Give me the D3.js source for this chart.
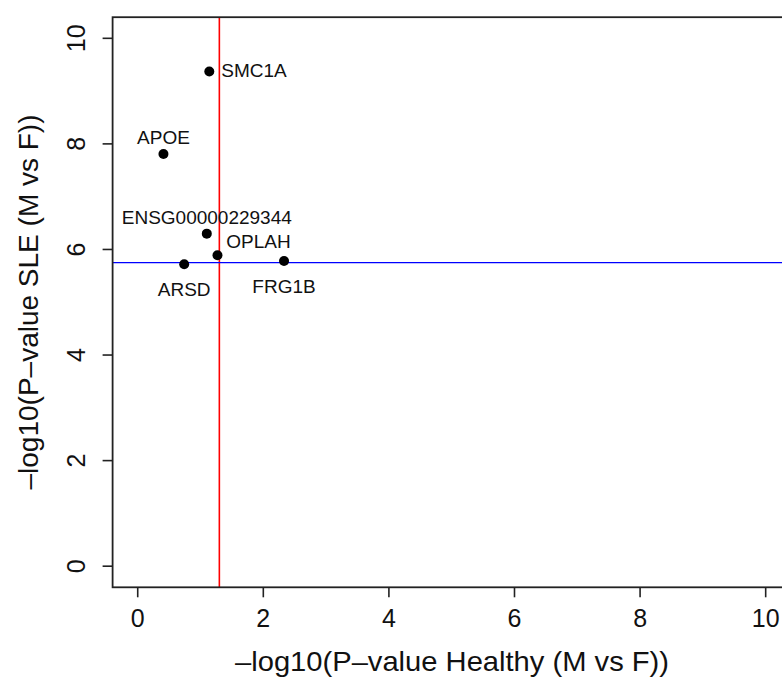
<!DOCTYPE html>
<meta charset="utf-8">
<style>
body { margin: 0; background: #fff; }
text { font-family: "Liberation Sans", Arial, sans-serif; fill: #111; }
.tick-label { font-size: 25px; }
.axis-title { font-size: 28px; }
.gene-label { font-size: 19px; }
</style>
<svg width="782" height="677"></svg>
<script src="https://d3js.org/d3.v7.min.js"></script>
<script>

// data
var genes  = ["SMC1A", "APOE", "ENSG00000229344", "OPLAH", "ARSD", "FRG1B"];
var xVals  = [1.14, 0.41, 1.10, 1.27, 0.74, 2.33];   // -log10 p healthy
var yVals  = [9.37, 7.81, 6.30, 5.89, 5.72, 5.78];   // -log10 p SLE
var labelPos = ["right", "above", "above", "aboveRight", "below", "below"];
var xTicks = [0, 2, 4, 6, 8, 10];
var yTicks = [0, 2, 4, 6, 8, 10];
var xCut = 1.30;    // -log10(0.05)
var yCut = 5.75;

var svg = d3.select("svg");

var x = d3.scaleLinear().domain([-0.4, 10.4]).range([112.6, 790.8]);
var y = d3.scaleLinear().domain([-0.4, 10.4]).range([587.3, 17.2]);

// threshold lines
svg.append("line")
    .attr("x1", x(xCut)).attr("x2", x(xCut))
    .attr("y1", y(10.4)).attr("y2", y(-0.4))
    .attr("stroke", "#f00").attr("stroke-width", 1.6);

svg.append("line")
    .attr("x1", x(-0.4)).attr("x2", x(10.4))
    .attr("y1", y(yCut)).attr("y2", y(yCut))
    .attr("stroke", "#00f").attr("stroke-width", 1.4);

// box
svg.append("rect")
    .attr("x", x(-0.4)).attr("y", y(10.4))
    .attr("width", x(10.4) - x(-0.4))
    .attr("height", y(-0.4) - y(10.4))
    .attr("fill", "none").attr("stroke", "#222").attr("stroke-width", 1.8);

// x axis
var xAxis = svg.append("g").attr("transform", "translate(0," + y(-0.4) + ")");
xAxis.selectAll("line").data(xTicks).join("line")
    .attr("x1", d => x(d)).attr("x2", d => x(d))
    .attr("y1", 0).attr("y2", 10)
    .attr("stroke", "#222").attr("stroke-width", 1.6);
xAxis.selectAll("text").data(xTicks).join("text")
    .attr("class", "tick-label")
    .attr("x", d => x(d)).attr("y", 40)
    .attr("text-anchor", "middle")
    .text(d => d);

// y axis
var yAxis = svg.append("g").attr("transform", "translate(" + x(-0.4) + ",0)");
yAxis.selectAll("line").data(yTicks).join("line")
    .attr("y1", d => y(d)).attr("y2", d => y(d))
    .attr("x1", 0).attr("x2", -10)
    .attr("stroke", "#222").attr("stroke-width", 1.6);
yAxis.selectAll("text").data(yTicks).join("text")
    .attr("class", "tick-label")
    .attr("transform", d => "translate(-28," + y(d) + ") rotate(-90)")
    .attr("text-anchor", "middle")
    .text(d => d);

// axis titles
svg.append("text")
    .attr("class", "axis-title")
    .attr("x", 452).attr("y", 671)
    .attr("text-anchor", "middle")
    .attr("textLength", 434).attr("lengthAdjust", "spacingAndGlyphs")
    .text("\u2013log10(P\u2013value Healthy (M vs F))");

svg.append("text")
    .attr("class", "axis-title")
    .attr("transform", "translate(38," + 302 + ") rotate(-90)")
    .attr("text-anchor", "middle")
    .text("\u2013log10(P\u2013value SLE (M vs F))");

// points
var pts = genes.map((g, i) => ({gene: g, x: xVals[i], y: yVals[i], pos: labelPos[i]}));

svg.selectAll(".pt").data(pts).join("circle")
    .attr("class", "pt")
    .attr("cx", d => x(d.x)).attr("cy", d => y(d.y))
    .attr("r", 5)
    .attr("fill", "#000");

var dx = {right: 12, above: 0, aboveRight: 41, below: 0};
var dy = {right: 5, above: -10, aboveRight: -7, below: 32};

svg.selectAll(".gene-label").data(pts).join("text")
    .attr("class", "gene-label")
    .attr("x", d => x(d.x) + dx[d.pos])
    .attr("y", d => y(d.y) + dy[d.pos])
    .attr("text-anchor", d => d.pos == "right" ? "start" : "middle")
    .text(d => d.gene);

</script>
